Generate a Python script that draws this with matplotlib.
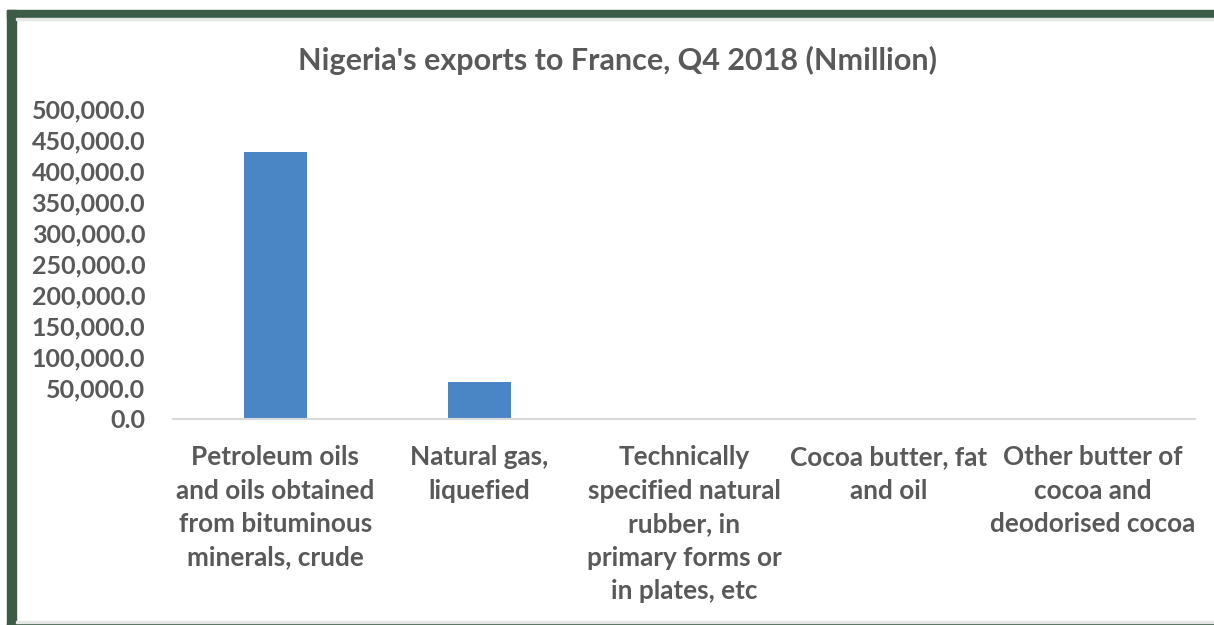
import matplotlib
matplotlib.use("Agg")
import matplotlib.pyplot as plt
from matplotlib.patches import Rectangle
from matplotlib.ticker import FuncFormatter

categories = [
    "Petroleum oils\nand oils obtained\nfrom bituminous\nminerals, crude",
    "Natural gas,\nliquefied",
    "Technically\nspecified natural\nrubber, in\nprimary forms or\nin plates, etc",
    "Cocoa butter, fat\nand oil",
    "Other butter of\ncocoa and\ndeodorised cocoa",
]
values = [431000.0, 60200.0, 150.0, 90.0, 40.0]
y_ticks = [0, 50000, 100000, 150000, 200000, 250000, 300000, 350000, 400000, 450000, 500000]
title = "Nigeria's exports to France, Q4 2018 (Nmillion)"

W, H = 1214, 625
TEXT = "#595959"
BAR = "#4a86c5"
FRAME = "#3d5c47"
FONT = "Lato"

fig = plt.figure(figsize=(W / 100, H / 100), dpi=100)
fig.patch.set_facecolor("white")

# dark green frame (left, top, bottom) with a faint grey inner edge
fig.add_artist(Rectangle((7 / W, 0), 9 / W, 1 - 10 / H, transform=fig.transFigure,
                         color=FRAME, zorder=0))
fig.add_artist(Rectangle((7 / W, 1 - 18 / H), 1, 8 / H, transform=fig.transFigure,
                         color=FRAME, zorder=0))
fig.add_artist(Rectangle((7 / W, 0), 1, 2 / H, transform=fig.transFigure,
                         color=FRAME, zorder=0))
fig.add_artist(Rectangle((16 / W, 1 - 20 / H), 1, 2 / H, transform=fig.transFigure,
                         color="#e6e8e6", zorder=0))
fig.add_artist(Rectangle((16 / W, 2 / H), 1, 2 / H, transform=fig.transFigure,
                         color="#e6e8e6", zorder=0))

left, right = 173 / W, 1195 / W
bottom, top = 1 - 419 / H, 1 - 109 / H
ax = fig.add_axes([left, bottom, right - left, top - bottom])
ax.set_facecolor("none")

x = range(len(categories))
ax.bar(x, values, width=0.31, color=BAR, zorder=2)

ax.set_xlim(-0.5, len(categories) - 0.5)
ax.set_ylim(0, 500000)
ax.set_yticks(y_ticks)
ax.yaxis.set_major_formatter(FuncFormatter(lambda v, p: f"{v:,.1f}"))
ax.set_xticks(list(x))
ax.set_xticklabels(categories, fontsize=18.8, fontweight="bold", color=TEXT,
                   family=FONT, linespacing=1.47, va="top")
for lbl in ax.get_yticklabels():
    lbl.set_fontsize(18)
    lbl.set_fontweight("bold")
    lbl.set_color(TEXT)
    lbl.set_family(FONT)

ax.tick_params(axis="both", length=0)
ax.tick_params(axis="y", pad=20)
ax.tick_params(axis="x", pad=19)
for s in ["top", "right", "left"]:
    ax.spines[s].set_visible(False)
ax.spines["bottom"].set_color("#d9d9d9")
ax.spines["bottom"].set_linewidth(1.5)

fig.text(618 / W, 1 - 60 / H, title, ha="center", va="center", fontsize=22,
         fontweight="bold", color=TEXT, family=FONT)

fig.savefig("out.png", dpi=100, facecolor="white")
